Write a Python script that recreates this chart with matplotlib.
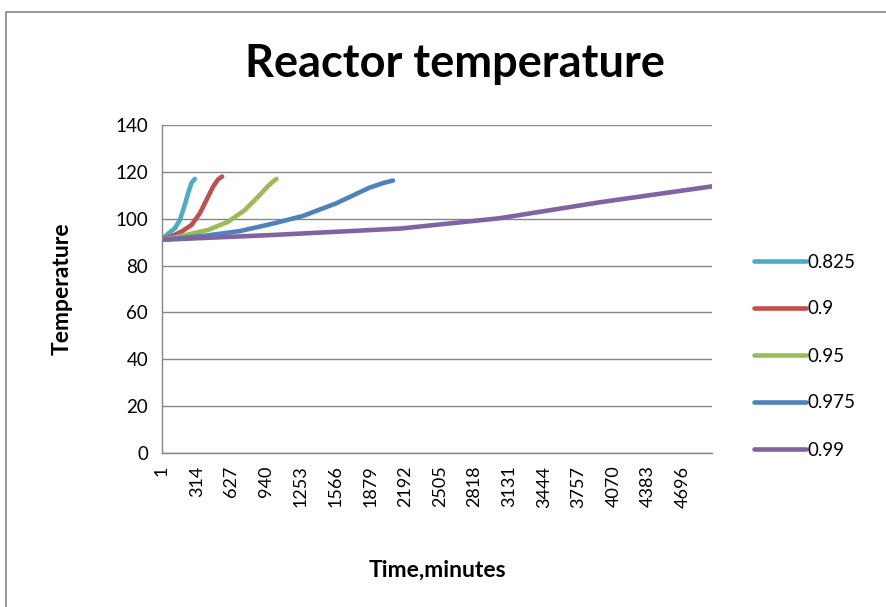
import matplotlib
matplotlib.use("Agg")
import matplotlib.pyplot as plt
from matplotlib.patches import Rectangle

plt.rcParams['font.family'] = ['Lato', 'DejaVu Sans']

series_names = ["0.825", "0.9", "0.95", "0.975", "0.99"]
colors = ["#4BACC6", "#C0504D", "#9BBB59", "#4F81BD", "#8064A2"]

t_0825 = [1, 27, 60, 117, 162, 207, 237, 267, 297]
T_0825 = [91.0, 92.4, 93.8, 95.9, 99.4, 106.0, 111.0, 115.3, 117.0]

t_09 = [1, 60, 120, 177, 267, 342, 402, 462, 507, 543]
T_09 = [91.0, 92.0, 93.2, 94.5, 97.3, 102.3, 108.0, 113.7, 116.8, 118.0]

t_095 = [1, 120, 237, 417, 597, 748, 868, 958, 1000, 1033]
T_095 = [91.0, 92.0, 93.3, 95.2, 98.7, 103.7, 109.4, 114.0, 115.8, 117.0]

t_0975 = [1, 400, 700, 973, 1108, 1273, 1573, 1874, 2000, 2084]
T_0975 = [91.0, 92.8, 94.7, 97.6, 99.2, 101.2, 106.6, 113.3, 115.3, 116.3]

t_099 = [1, 973, 2150, 3045, 3946, 4960]
T_099 = [91.0, 93.0, 95.8, 100.2, 107.0, 113.8]

x_ticks = [1, 314, 627, 940, 1253, 1566, 1879, 2192, 2505, 2818, 3131,
           3444, 3757, 4070, 4383, 4696]
y_ticks = [0, 20, 40, 60, 80, 100, 120, 140]
n_categories = 4960

fig = plt.figure(figsize=(8.86, 6.07), dpi=100)
fig.patches.append(Rectangle((6/886, -0.1), 1.2, (607-12)/607 + 0.1,
                             transform=fig.transFigure, fill=False,
                             edgecolor="#868686", linewidth=1.2))

ax = fig.add_axes([162/886, 1-453/607, (712-162)/886, (453-125)/607])

data = [(t_0825, T_0825), (t_09, T_09), (t_095, T_095), (t_0975, T_0975), (t_099, T_099)]
for (t, T), name, c in zip(data, series_names, colors):
    ax.plot(t, T, color=c, linewidth=3.3, label=name, solid_capstyle='round')

ax.set_xlim(1, n_categories)
ax.set_ylim(0, 140)
ax.set_yticks(y_ticks)
ax.set_xticks(x_ticks)
ax.set_xticklabels([str(v) for v in x_ticks], rotation=90, fontsize=13, va='top')
ax.tick_params(axis='y', labelsize=13.5, length=0, pad=10)
ax.tick_params(axis='x', length=0, pad=9)
ax.grid(axis='y', color="#868686", linewidth=1.0)
ax.set_axisbelow(True)
for s in ['top', 'right']:
    ax.spines[s].set_visible(False)
for s in ['left', 'bottom']:
    ax.spines[s].set_color("#868686")
    ax.spines[s].set_linewidth(1.0)

fig.text(455/886, 1-64/607, "Reactor temperature", ha='center', va='center',
         fontsize=32.5, fontweight='bold')
fig.text(62/886, 1-289/607, "Temperature", ha='center', va='center',
         rotation=90, fontsize=16.5, fontweight='bold')
fig.text(437/886, 1-570/607, "Time,minutes", ha='center', va='center',
         fontsize=16.5, fontweight='bold')

leg = fig.legend(loc='upper left', bbox_to_anchor=(746/886, 1-246/607),
                 frameon=False, fontsize=13.5, handlelength=2.8,
                 handletextpad=0.1, labelspacing=1.6, borderaxespad=0)

fig.savefig("out.png", dpi=100)
